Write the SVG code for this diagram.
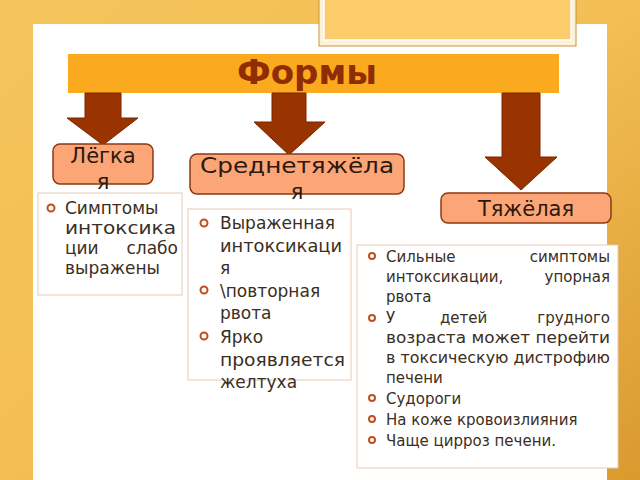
<svg xmlns="http://www.w3.org/2000/svg" width="640" height="480" viewBox="0 0 640 480">
<defs>
<linearGradient id="bg" x1="0" y1="0" x2="1" y2="1"><stop offset="0" stop-color="#f5c45c"/><stop offset="0.5" stop-color="#f3be55"/><stop offset="1" stop-color="#d99a2e"/></linearGradient>
</defs>
<style>
.t{font-family:"DejaVu Sans",sans-serif;fill:#3b2e22;font-size:17px}
.n{fill:#fca577;stroke:#8b3a14;stroke-width:1.5}
.nt{font-family:"DejaVu Sans",sans-serif;fill:#2a1a10;font-size:21px}
.box{fill:#fff;stroke:#e6c8b8;stroke-width:1}
.b{fill:none;stroke:#c0501a;stroke-width:2}
.ar{fill:#993300;stroke:#7a2600}
</style>
<rect width="640" height="480" fill="url(#bg)"/>
<rect x="33" y="24" width="574" height="456" fill="#fff"/>
<rect x="319" y="-2" width="257" height="48" fill="#fdf2d8" stroke="#c89440"/>
<rect x="324" y="-2" width="247" height="42" fill="#fccc6a" stroke="#fff" stroke-width="1.5"/>
<g id="title"><rect x="68" y="54" width="491" height="39" fill="#fba91f"/>
<text x="307" y="84" text-anchor="middle" font-family="'DejaVu Sans',sans-serif" font-weight="bold" font-size="34" fill="#8f2d05">Формы</text></g>
<g id="connectors">
<path class="ar" d="M272,93 H306 V122 H325 L289,155 L254,122 H272 Z"/>
<path class="ar" d="M85,93 H121 V118 H138 L103,145 L67,118 H85 Z"/>
<path class="ar" d="M502,93 H540 V157 H557 L521,190 L485,157 H502 Z"/>
</g>
<g id="n1"><rect class="n" x="53" y="144" width="100" height="40" rx="7"/>
<text class="nt" text-anchor="middle"><tspan x="103" y="163">Лёгка</tspan><tspan x="103" y="189">я</tspan></text></g>
<g id="n2"><rect class="n" x="190" y="154" width="214" height="40" rx="7"/>
<text class="nt" text-anchor="middle"><tspan x="297" y="173" textLength="194" lengthAdjust="spacingAndGlyphs">Среднетяжёла</tspan><tspan x="297" y="199">я</tspan></text></g>
<g id="n3"><rect class="n" x="441" y="193" width="170" height="30" rx="7"/>
<text class="nt" x="526" y="216" text-anchor="middle">Тяжёлая</text></g>
<g id="l1"><rect class="box" x="38" y="193" width="144" height="102"/>
<circle class="b" cx="51" cy="208" r="3.5"/>
<text class="t"><tspan x="65" y="214">Симптомы</tspan><tspan x="65" y="234" textLength="111" lengthAdjust="spacingAndGlyphs">интоксика</tspan><tspan x="65" y="254">ции</tspan><tspan x="178" y="254" text-anchor="end">слабо</tspan><tspan x="65" y="274">выражены</tspan></text></g>
<g id="l2"><rect class="box" x="188" y="209" width="163" height="171"/>
<circle class="b" cx="204" cy="223" r="3.5"/><circle class="b" cx="204" cy="290" r="3.5"/><circle class="b" cx="204" cy="336" r="3.5"/>
<text class="t"><tspan x="220" y="229">Выраженная</tspan><tspan x="220" y="252" textLength="122" lengthAdjust="spacingAndGlyphs">интоксикаци</tspan><tspan x="220" y="274">я</tspan><tspan x="220" y="297">\повторная</tspan><tspan x="220" y="319">рвота</tspan><tspan x="220" y="343">Ярко</tspan><tspan x="220" y="366" textLength="125" lengthAdjust="spacingAndGlyphs">проявляется</tspan><tspan x="220" y="388">желтуха</tspan></text></g>
<g id="l3"><rect class="box" x="357" y="245" width="261" height="223"/>
<circle class="b" cx="372" cy="256" r="3"/><circle class="b" cx="372" cy="318" r="3"/><circle class="b" cx="372" cy="398" r="3"/><circle class="b" cx="372" cy="419" r="3"/><circle class="b" cx="372" cy="440" r="3"/>
<text class="t" style="font-size:15px"><tspan x="386" y="262">Сильные</tspan><tspan x="610" y="262" text-anchor="end">симптомы</tspan><tspan x="386" y="282">интоксикации,</tspan><tspan x="610" y="282" text-anchor="end">упорная</tspan><tspan x="386" y="302">рвота</tspan><tspan x="386" y="323">У</tspan><tspan x="440" y="323">детей</tspan><tspan x="610" y="323" text-anchor="end">грудного</tspan><tspan x="386" y="343" textLength="224" lengthAdjust="spacingAndGlyphs">возраста может перейти</tspan><tspan x="386" y="363" textLength="224" lengthAdjust="spacingAndGlyphs">в токсическую дистрофию</tspan><tspan x="386" y="383">печени</tspan><tspan x="386" y="404">Судороги</tspan><tspan x="386" y="425">На коже кровоизлияния</tspan><tspan x="386" y="446">Чаще цирроз печени.</tspan></text></g>
</svg>
